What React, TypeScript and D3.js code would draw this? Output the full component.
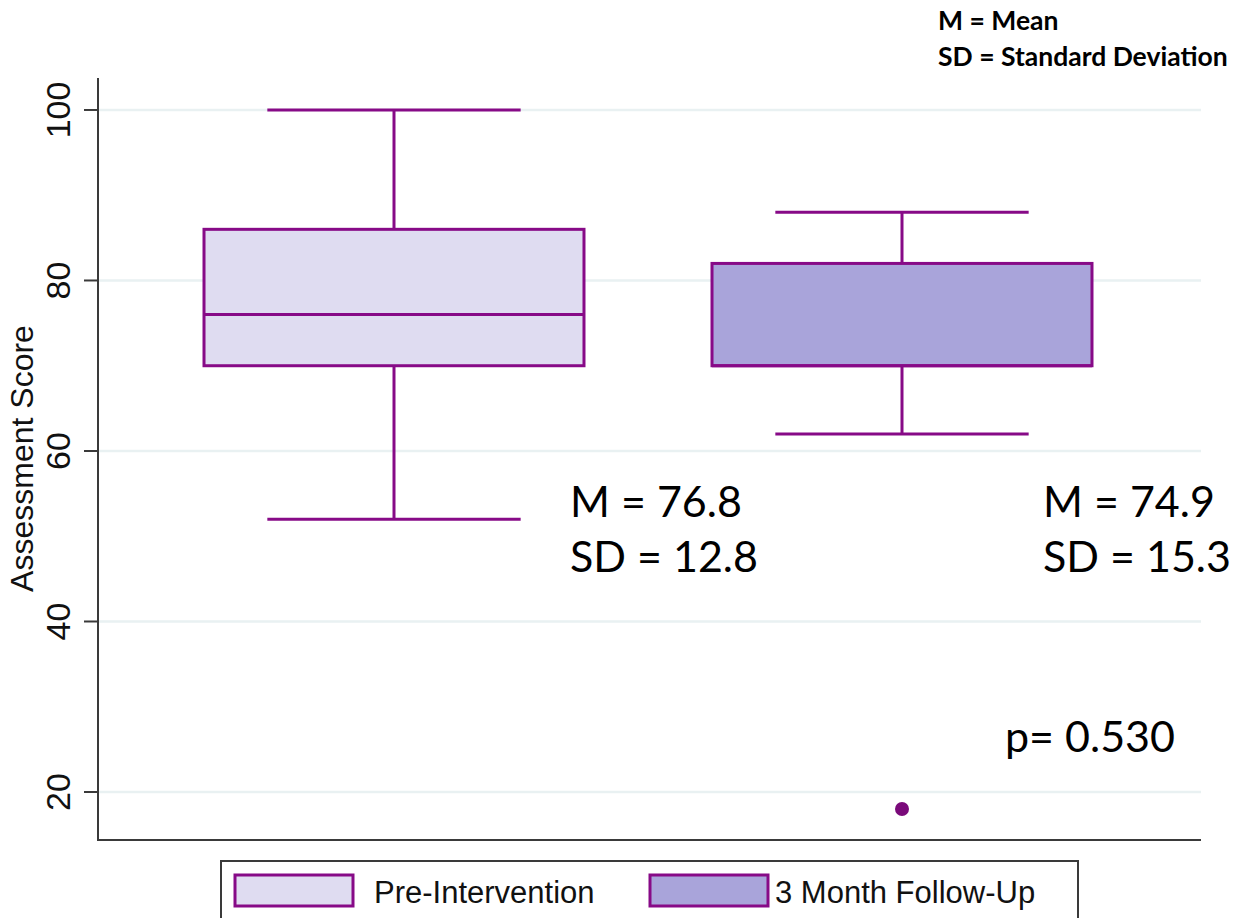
import React from "react";
import * as d3 from "d3";

// Box-plot summary per assessment time point
const categories = ["Pre-Intervention", "3 Month Follow-Up"];
const whiskerLow = [52, 62];
const q1 = [70, 70];
const median = [76, 70];
const q3 = [86, 82];
const whiskerHigh = [100, 88];
const outlierGroups = ["3 Month Follow-Up"];
const outlierValues = [18];

const means = [76.8, 74.9];
const sds = [12.8, 15.3];
const pValue = "0.530";

const yTicks = [20, 40, 60, 80, 100];
const fills = ["#dfdcf1", "#a9a4da"];

const W = 1241;
const H = 918;
const STROKE = "#870a87";

export default function App() {
  const left = 98;
  const right = 1201;
  const top = 78;
  const bottom = 840;

  const y = d3.scaleLinear().domain([14.37, 103.75]).range([bottom, top]);
  const x = d3.scaleBand<string>().domain(categories).range([140, 1156]).padding(0);
  const boxW = x.bandwidth() * 0.748;
  const capW = boxW * (2 / 3);

  const sans = "'Liberation Sans', Arial, sans-serif";
  const calib = "Lato, 'Open Sans', sans-serif";

  return (
    <svg
      width={W}
      height={H}
      style={{ position: "absolute", left: 0, top: 0, background: "#fff" }}
    >
      {/* gridlines */}
      {yTicks.map((t) => (
        <line
          key={"g" + t}
          x1={left}
          x2={right}
          y1={y(t)}
          y2={y(t)}
          stroke="#e9f1f2"
          strokeWidth={2.5}
        />
      ))}

      {/* boxes */}
      {categories.map((c, i) => {
        const cx = x(c)! + x.bandwidth() / 2;
        return (
          <g key={c} stroke={STROKE} strokeWidth={3}>
            <line x1={cx} x2={cx} y1={y(whiskerHigh[i])} y2={y(q3[i])} />
            <line x1={cx} x2={cx} y1={y(q1[i])} y2={y(whiskerLow[i])} />
            <line x1={cx - capW / 2} x2={cx + capW / 2} y1={y(whiskerHigh[i])} y2={y(whiskerHigh[i])} />
            <line x1={cx - capW / 2} x2={cx + capW / 2} y1={y(whiskerLow[i])} y2={y(whiskerLow[i])} />
            <rect
              x={cx - boxW / 2}
              y={y(q3[i])}
              width={boxW}
              height={y(q1[i]) - y(q3[i])}
              fill={fills[i]}
            />
            <line x1={cx - boxW / 2} x2={cx + boxW / 2} y1={y(median[i])} y2={y(median[i])} />
          </g>
        );
      })}

      {/* outliers */}
      {outlierValues.map((v, i) => (
        <circle
          key={"o" + i}
          cx={x(outlierGroups[i])! + x.bandwidth() / 2}
          cy={y(v)}
          r={7}
          fill="#7a0a7a"
        />
      ))}

      {/* axes */}
      <line x1={left} x2={left} y1={top} y2={bottom} stroke="#3a3a3a" strokeWidth={2} />
      <line x1={left - 1} x2={right} y1={bottom} y2={bottom} stroke="#3a3a3a" strokeWidth={2} />
      {yTicks.map((t) => (
        <g key={"t" + t}>
          <line x1={left - 14} x2={left} y1={y(t)} y2={y(t)} stroke="#3a3a3a" strokeWidth={2} />
          <text
            transform={`translate(70,${y(t)}) rotate(-90)`}
            textAnchor="middle"
            fontFamily={sans}
            fontSize={34}
            fill="#111"
          >
            {t}
          </text>
        </g>
      ))}
      <text
        transform={`translate(33,${(325 + 592) / 2}) rotate(-90)`}
        textAnchor="middle"
        fontFamily={sans}
        fontSize={32}
        fill="#111"
      >
        Assessment Score
      </text>

      {/* statistics annotations */}
      {categories.map((c, i) => {
        const tx = i === 0 ? 570 : 1043;
        return (
          <g key={"s" + c} fontFamily={calib} fontSize={43} fill="#000">
            <text x={tx} y={517}>{`M = ${means[i].toFixed(1)}`}</text>
            <text x={tx} y={572}>{`SD = ${sds[i].toFixed(1)}`}</text>
          </g>
        );
      })}
      <text x={1005} y={752} fontFamily={calib} fontSize={43} fill="#000">
        {`p= ${pValue}`}
      </text>

      <g fontFamily={calib} fontWeight={700} fontSize={26.5} fill="#000">
        <text x={938} y={30}>M = Mean</text>
        <text x={938} y={66}>SD = Standard Deviation</text>
      </g>

      {/* legend */}
      <rect x={221} y={861} width={857} height={80} fill="#fff" stroke="#3a3a3a" strokeWidth={2} />
      {categories.map((c, i) => {
        const sx = i === 0 ? 235 : 650;
        return (
          <g key={"l" + c}>
            <rect x={sx} y={875} width={118} height={31} fill={fills[i]} stroke={STROKE} strokeWidth={3} />
            <text x={i === 0 ? 374 : 775} y={903} fontFamily={sans} fontSize={31} fill="#111">
              {c}
            </text>
          </g>
        );
      })}
    </svg>
  );
}
